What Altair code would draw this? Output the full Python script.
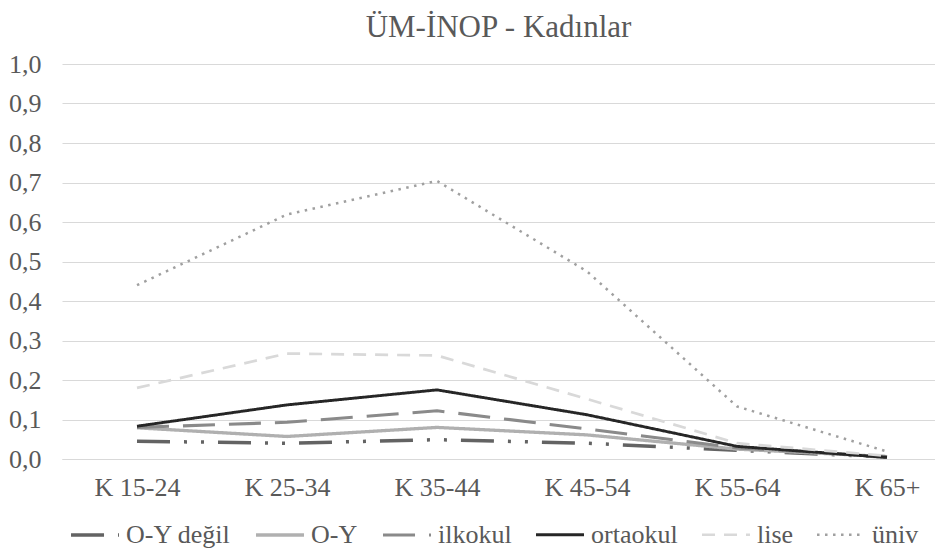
import altair as alt
import pandas as pd

categories = ["K 15-24", "K 25-34", "K 35-44", "K 45-54", "K 55-64", "K 65+"]
series_names = ["O-Y değil", "O-Y", "ilkokul", "ortaokul", "lise", "üniv"]

oy_degil = [0.045, 0.040, 0.049, 0.040, 0.022, 0.005]
oy = [0.079, 0.057, 0.080, 0.061, 0.025, 0.006]
ilkokul = [0.080, 0.093, 0.122, 0.076, 0.028, 0.006]
ortaokul = [0.083, 0.137, 0.175, 0.112, 0.032, 0.004]
lise = [0.180, 0.267, 0.262, 0.152, 0.040, 0.008]
univ = [0.440, 0.619, 0.704, 0.475, 0.133, 0.019]

values = [oy_degil, oy, ilkokul, ortaokul, lise, univ]

colors = ["#636363", "#b0b0b0", "#8a8a8a", "#262626", "#d9d9d9", "#a0a0a0"]
dashes = [[33, 14, 3, 14, 3, 14], [1, 0], [32, 14], [1, 0], [13, 9], [2.5, 5.5]]
widths = [3.5, 2.5, 3, 3, 3, 3]

rows = []
for name, vals in zip(series_names, values):
    for i, v in enumerate(vals):
        rows.append({"series": name, "idx": i, "cat": categories[i], "value": v})
df = pd.DataFrame(rows)

label_expr = "[" + ",".join("'" + c + "'" for c in categories) + "][datum.value]"

FONT = "Liberation Serif, Times New Roman, serif"
TXT = "#595959"

legend = alt.Legend(
    title=None,
    orient="none",
    direction="horizontal",
    legendX=7,
    legendY=445,
    symbolType="stroke",
    symbolSize=2300,
    symbolStrokeWidth=3,
    labelFont=FONT,
    labelFontSize=26,
    labelColor=TXT,
    labelOffset=5,
    columnPadding=18,
    columns=6,
)

chart = alt.Chart(df).mark_line(interpolate="linear").encode(
    x=alt.X(
        "idx:Q",
        scale=alt.Scale(domain=[-0.5, 5.32], nice=False, zero=False),
        axis=alt.Axis(
            values=list(range(len(categories))),
            labelExpr=label_expr,
            title=None,
            grid=False,
            ticks=False,
            domain=True,
            domainColor="#d9d9d9",
            domainWidth=1,
            labelFont=FONT,
            labelFontSize=26,
            labelColor=TXT,
            labelPadding=15,
        ),
    ),
    y=alt.Y(
        "value:Q",
        scale=alt.Scale(domain=[0, 1], nice=False),
        axis=alt.Axis(
            values=[i / 10 for i in range(11)],
            labelExpr="replace(format(datum.value, '.1f'), '.', ',')",
            title=None,
            grid=True,
            gridColor="#d9d9d9",
            gridWidth=1,
            ticks=False,
            domain=False,
            labelFont=FONT,
            labelFontSize=26,
            labelColor=TXT,
            labelPadding=21,
        ),
    ),
    color=alt.Color("series:N", sort=series_names,
                    scale=alt.Scale(domain=series_names, range=colors), legend=legend),
    strokeDash=alt.StrokeDash("series:N", sort=series_names,
                              scale=alt.Scale(domain=series_names, range=dashes), legend=legend),
    strokeWidth=alt.StrokeWidth("series:N", sort=series_names,
                                scale=alt.Scale(domain=series_names, range=widths), legend=legend),
    detail="series:N",
    order="idx:Q",
).properties(
    width=873,
    height=395,
    padding={"left": 0, "right": 0, "top": 4, "bottom": 0},
    title=alt.TitleParams(
        "ÜM-İNOP - Kadınlar",
        font=FONT,
        fontSize=31,
        fontWeight="normal",
        color=TXT,
        anchor="middle",
        offset=7,
        dx=0,
    ),
).configure_view(stroke=None)

chart.save("out.html", embed_options={"renderer": "svg", "actions": False})
